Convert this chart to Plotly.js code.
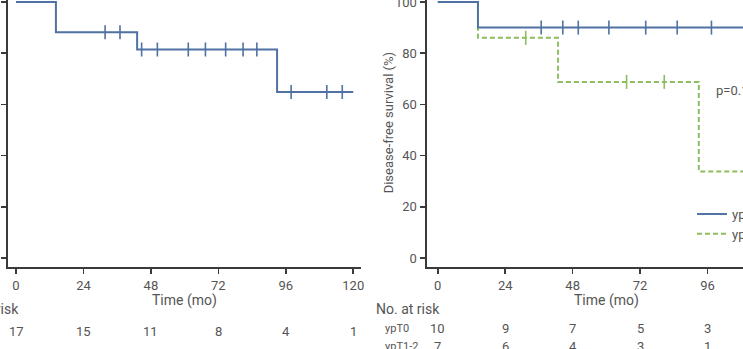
<!DOCTYPE html>
<html>
<head>
<meta charset="utf-8">
<script src="https://cdn.plot.ly/plotly-3.0.1.min.js"></script>
<style>
html, body { margin:0; padding:0; width:743px; height:349px; overflow:hidden; background:#fff; }
#chart { position:absolute; left:-60px; top:-20px; width:903px; height:409px; }
</style>
</head>
<body>
<div id="chart"></div>
<script>
// ---- data ----
const monthTicks = [0, 24, 48, 72, 96, 120];
const survTicks = [0, 20, 40, 60, 80, 100];

// left panel: all patients
const allTimes = [0, 14.2, 43.1, 92.9, 120];
const allSurv  = [100, 88.2, 81.4, 64.8, 64.8];
const allCensT = [31.7, 37.0, 44.7, 50.3, 61.3, 67.4, 74.6, 80.8, 85.7, 97.9, 110.6, 116.1];
const allCensS = [88.2, 88.2, 81.4, 81.4, 81.4, 81.4, 81.4, 81.4, 81.4, 64.8, 64.8, 64.8];
const riskAll  = [17, 15, 11, 8, 4, 1];

// right panel: ypT0 vs ypT1-2
const groupNames = ['ypT0', 'ypT1-2'];
const t0Times = [0, 14.3, 116.1];
const t0Surv  = [100, 90.0, 90.0];
const t0CensT = [36.8, 44.5, 50.0, 60.9, 74.0, 85.2, 97.4, 110.6, 116.1];
const t0CensS = [90, 90, 90, 90, 90, 90, 90, 90, 90];
const t12Times = [0, 14.3, 42.8, 92.9, 120];
const t12Surv  = [100, 86.0, 68.8, 33.8, 33.8];
const t12CensT = [31.3, 67.2, 80.6];
const t12CensS = [86.0, 68.8, 68.8];
const riskT0  = [10, 9, 7, 5, 3, 0];
const riskT12 = [7, 6, 4, 3, 1, 1];
const pText = 'p=0.12';

// ---- styling ----
const FONT = "Roboto, 'DejaVu Sans Condensed', sans-serif";
const BLUE = '#4f72a2';
const GREEN = '#8dbd5f';
const AX = '#3a3a3a';
const TXT = '#555555';

function censor(x, y, color, xa, ya) {
  return {x: x, y: y, xaxis: xa, yaxis: ya, type: 'scatter', mode: 'markers', showlegend: false,
    hoverinfo: 'skip',
    marker: {symbol: 'line-ns-open', size: 10, color: color, line: {color: color, width: 1.6}}};
}

const traces = [
  {x: allTimes, y: allSurv, xaxis: 'x', yaxis: 'y', type: 'scatter', mode: 'lines', showlegend: false,
   line: {shape: 'hv', color: BLUE, width: 2}},
  censor(allCensT, allCensS, BLUE, 'x', 'y'),
  {x: t12Times, y: t12Surv, xaxis: 'x2', yaxis: 'y2', type: 'scatter', mode: 'lines', name: groupNames[1],
   legendrank: 2, line: {shape: 'hv', color: GREEN, width: 2, dash: '5px,3px'}},
  censor(t12CensT, t12CensS, GREEN, 'x2', 'y2'),
  {x: t0Times, y: t0Surv, xaxis: 'x2', yaxis: 'y2', type: 'scatter', mode: 'lines', name: groupNames[0],
   legendrank: 1, line: {shape: 'hv', color: BLUE, width: 2}},
  censor(t0CensT, t0CensS, BLUE, 'x2', 'y2')
];

function xax(domain, range, anchor) {
  return {domain: domain, range: range, anchor: anchor, tickmode: 'array', tickvals: monthTicks,
    showline: true, linewidth: 2, linecolor: AX, ticks: 'outside', ticklen: 5, tickwidth: 1.5, tickcolor: AX,
    showgrid: false, zeroline: false, tickfont: {family: FONT, size: 13, color: TXT}, fixedrange: true};
}
function yax(domain, anchor, showLabels) {
  return {domain: domain, range: [-3.5, 105], anchor: anchor, tickmode: 'array', tickvals: survTicks,
    showticklabels: showLabels,
    showline: true, linewidth: 2, linecolor: AX, ticks: 'outside', ticklen: 5, tickwidth: 1.5, tickcolor: AX,
    showgrid: false, zeroline: false, tickfont: {family: FONT, size: 13, color: TXT}, fixedrange: true};
}

const ann = [];
function txt(text, x, xref, y, yref, size, anchor, extra) {
  ann.push(Object.assign({text: text, x: x, xref: xref, y: y, yref: yref, showarrow: false,
    xanchor: anchor || 'center', yanchor: 'middle', font: {family: FONT, size: size, color: TXT}}, extra || {}));
}
// axis titles
txt('Time (mo)', 60, 'x', 0.2176, 'paper', 14);
txt('Time (mo)', 60, 'x2', 0.2176, 'paper', 14);
txt('Disease-free survival (%)', 0.4961, 'paper', 53, 'y2', 13, 'center', {textangle: -90});
// number at risk
txt('No. at risk', 1.8, 'x', 0.1956, 'paper', 14, 'right');
txt('No. at risk', 1.6, 'x2', 0.1956, 'paper', 14, 'right');
monthTicks.forEach((m, i) => {
  txt(String(riskAll[i]), m, 'x', 0.140, 'paper', 13);
  txt(String(riskT0[i]), m, 'x2', 0.1467, 'paper', 13);
  txt(String(riskT12[i]), m, 'x2', 0.1034, 'paper', 13);
});
txt(groupNames[0], 0.4906, 'paper', 0.1467, 'paper', 11, 'left');
txt(groupNames[1], 0.4906, 'paper', 0.1034, 'paper', 11, 'left');
// p value
txt(pText, 98.3, 'x2', 65.6, 'y2', 13, 'left');

const layout = {
  width: 903, height: 409,
  margin: {l: 0, r: 0, t: 0, b: 0},
  paper_bgcolor: '#fff', plot_bgcolor: '#fff',
  font: {family: FONT, color: TXT},
  xaxis: xax([0.0753, 0.4665], [-2.85, 122.85], 'y'),
  yaxis: yax([0.2983, 0.9775], 'x', false),
  xaxis2: xax([0.5388, 0.9371], [-4, 124], 'y2'),
  yaxis2: yax([0.2983, 0.9775], 'x2', true),
  showlegend: true,
  legend: {x: 0.8328, y: 0.4645, xanchor: 'left', yanchor: 'top', bgcolor: 'rgba(0,0,0,0)',
    font: {family: FONT, size: 13, color: TXT}, tracegroupgap: 0},
  annotations: ann
};

Plotly.newPlot('chart', traces, layout, {displayModeBar: false, staticPlot: true});
</script>
</body>
</html>
